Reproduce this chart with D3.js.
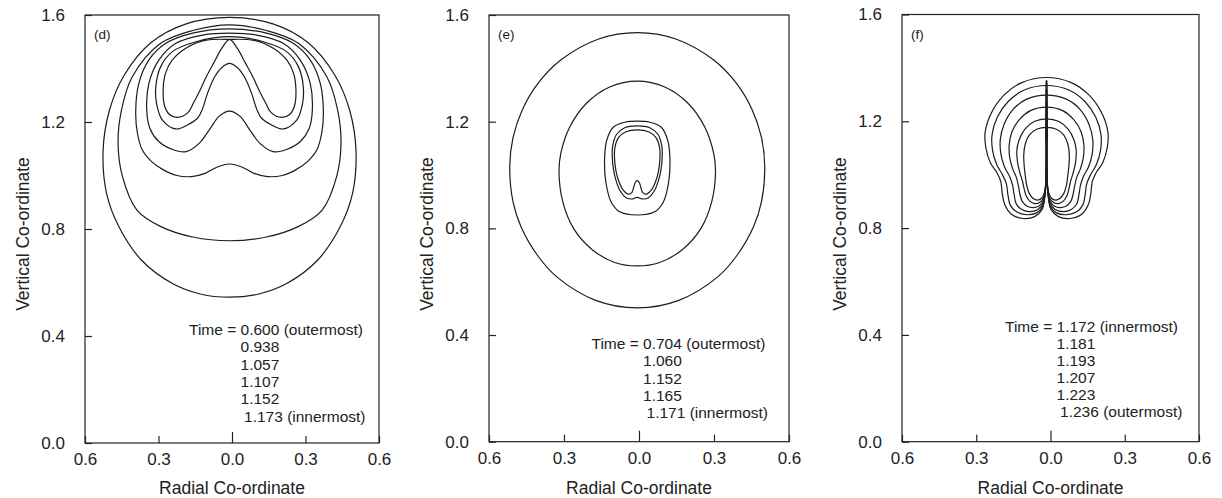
<!DOCTYPE html>
<html>
<head>
<meta charset="utf-8">
<script src="https://cdn.jsdelivr.net/npm/d3@7"></script>
<style>
  body { margin: 0; background: #fff; }
  text { font-family: "Liberation Sans", Arial, Helvetica, sans-serif; fill: #222; }
</style>
</head>
<body>
<svg id="chart" width="1222" height="498"></svg>
<script>
// axis ticks (radial axis is shown as distance from the centre line)
const xTicks = [-0.6, -0.3, 0.0, 0.3, 0.6];
const yTicks = [0.0, 0.4, 0.8, 1.2, 1.6];

// legend texts
const timesD = ["0.600 (outermost)", "0.938", "1.057", "1.107", "1.152", "1.173 (innermost)"];
const timesE = ["0.704 (outermost)", "1.060", "1.152", "1.165", "1.171 (innermost)"];
const timesF = ["1.172 (innermost)", "1.181", "1.193", "1.207", "1.223", "1.236 (outermost)"];

// centre line of the shapes
const centreD = -0.010;
const centreE = -0.007;
const centreF = -0.016;

// right half of each contour [r, z], from the top down to the axis; mirrored for the left half
// panel (d)
const d600 = [[0,1.591],[0.18,1.566],[0.32,1.497],[0.43,1.375],[0.49,1.245],[0.516,1.095],[0.502,0.933],[0.452,0.809],[0.36,0.684],[0.235,0.597],[0.12,0.557],[0,0.545]];
const d938 = [[0,1.563],[0.15,1.542],[0.281,1.494],[0.397,1.369],[0.441,1.245],[0.455,1.12],[0.437,0.996],[0.378,0.871],[0.28,0.809],[0.15,0.770],[0,0.756]];
const d1057 = [[0,1.548],[0.151,1.532],[0.26,1.494],[0.329,1.432],[0.37,1.345],[0.383,1.24],[0.376,1.158],[0.356,1.095],[0.318,1.052],[0.27,1.021],[0.215,1.0],[0.155,0.996],[0.1,1.008],[0.05,1.032],[0,1.043]];
const d1107 = [[0,1.532],[0.11,1.525],[0.219,1.494],[0.288,1.432],[0.329,1.345],[0.338,1.245],[0.325,1.176],[0.29,1.128],[0.235,1.098],[0.178,1.089],[0.124,1.12],[0.083,1.17],[0.042,1.222],[0,1.241]];
const d1152 = [[0,1.519],[0.137,1.50],[0.233,1.463],[0.281,1.407],[0.301,1.332],[0.298,1.27],[0.274,1.207],[0.219,1.174],[0.17,1.19],[0.13,1.215],[0.11,1.25],[0.09,1.307],[0.06,1.37],[0.03,1.405],[0,1.419]];
const d1173 = [[0,1.509],[0.1,1.505],[0.18,1.475],[0.235,1.43],[0.262,1.38],[0.271,1.32],[0.265,1.26],[0.245,1.228],[0.213,1.217],[0.17,1.235],[0.148,1.27],[0.125,1.31],[0.095,1.369],[0.065,1.42],[0.032,1.475],[0,1.509]];

// panel (e)
const e704 = [[0,1.534],[0.154,1.51],[0.306,1.431],[0.40,1.34],[0.46,1.244],[0.497,1.14],[0.51,1.031],[0.497,0.90],[0.465,0.806],[0.40,0.70],[0.323,0.619],[0.166,0.53],[0,0.502]];
const e1060 = [[0,1.352],[0.11,1.33],[0.202,1.27],[0.27,1.18],[0.306,1.08],[0.313,1.01],[0.298,0.90],[0.255,0.80],[0.18,0.72],[0.09,0.672],[0,0.659]];
const e1152 = [[0,1.202],[0.05,1.198],[0.095,1.18],[0.122,1.13],[0.131,1.05],[0.125,0.97],[0.105,0.90],[0.07,0.862],[0,0.850]];
const e1165 = [[0,1.184],[0.05,1.177],[0.083,1.152],[0.098,1.11],[0.10,1.07],[0.095,1.02],[0.085,0.98],[0.068,0.94],[0.045,0.915],[0.022,0.91],[0,0.916]];
const e1171 = [[0,1.169],[0.045,1.162],[0.075,1.14],[0.089,1.105],[0.091,1.065],[0.085,1.015],[0.073,0.975],[0.055,0.942],[0.035,0.928],[0.021,0.935],[0.014,0.955],[0.008,0.972],[0,0.979]];

// panel (f)
const f1172 = [[0,1.177],[0.04,1.17],[0.07,1.148],[0.086,1.115],[0.092,1.075],[0.09,1.03],[0.085,0.99],[0.079,0.955],[0.07,0.93],[0.055,0.912],[0.037,0.905],[0.02,0.912],[0.009,0.932],[0.004,0.96],[0.0015,1.02],[0.0008,1.10],[0.0008,1.16]];
const f1181 = [[0,1.209],[0.05,1.199],[0.088,1.17],[0.111,1.13],[0.12,1.09],[0.117,1.045],[0.107,1.005],[0.097,0.975],[0.09,0.945],[0.082,0.92],[0.068,0.901],[0.048,0.892],[0.028,0.896],[0.013,0.912],[0.006,0.94],[0.0015,1.0],[0.0008,1.10],[0.0008,1.19]];
const f1193 = [[0,1.253],[0.065,1.24],[0.11,1.206],[0.14,1.16],[0.151,1.11],[0.148,1.06],[0.136,1.02],[0.122,0.99],[0.113,0.955],[0.107,0.925],[0.097,0.898],[0.078,0.882],[0.052,0.877],[0.028,0.885],[0.012,0.905],[0.005,0.94],[0.0015,1.0],[0.0008,1.10],[0.0008,1.235]];
const f1207 = [[0,1.298],[0.08,1.283],[0.135,1.245],[0.171,1.19],[0.187,1.13],[0.184,1.075],[0.17,1.03],[0.15,0.995],[0.137,0.96],[0.131,0.925],[0.122,0.89],[0.10,0.87],[0.068,0.862],[0.035,0.87],[0.014,0.893],[0.006,0.93],[0.002,0.98],[0.0008,1.10],[0.0008,1.28]];
const f1223 = [[0,1.334],[0.09,1.317],[0.155,1.274],[0.199,1.215],[0.22,1.15],[0.218,1.09],[0.201,1.037],[0.178,1.0],[0.162,0.965],[0.156,0.925],[0.146,0.885],[0.12,0.86],[0.08,0.85],[0.04,0.857],[0.016,0.882],[0.007,0.925],[0.002,0.98],[0.0008,1.10],[0.0008,1.22],[0.0008,1.318]];
const f1236 = [[0,1.364],[0.10,1.345],[0.17,1.30],[0.221,1.235],[0.248,1.16],[0.245,1.10],[0.227,1.045],[0.202,1.01],[0.185,0.975],[0.179,0.93],[0.169,0.888],[0.142,0.852],[0.095,0.836],[0.048,0.843],[0.018,0.87],[0.007,0.915],[0.002,0.98],[0.0008,1.10],[0.0008,1.25],[0.0008,1.352]];

const curvesD = [d600, d938, d1057, d1107, d1152, d1173];
const curvesE = [e704, e1060, e1152, e1165, e1171];
const curvesF = [f1172, f1181, f1193, f1207, f1223, f1236];

const panels = [
  { tag: "(d)", curves: curvesD, centre: centreD, times: timesD,
    left: 85, right: 379, top: 15, bottom: 443, legendX: 189, legendY: 335, legendDy: 17.3 },
  { tag: "(e)", curves: curvesE, centre: centreE, times: timesE,
    left: 489, right: 789, top: 15, bottom: 441.7, legendX: 591.5, legendY: 349, legendDy: 17.3 },
  { tag: "(f)", curves: curvesF, centre: centreF, times: timesF,
    left: 902, right: 1199, top: 14.5, bottom: 441.7, legendX: 1005, legendY: 332, legendDy: 17 }
];

const svg = d3.select("#chart");
const ink = "#222";

// right half + mirrored left half, as one closed outline
function outline(half, c) {
  const right = half.map(([r, z]) => [c + r, z]);
  const left = half.filter((p, i) => i > 0 && p[0] > 0).reverse().map(([r, z]) => [c - r, z]);
  return right.concat(left);
}

panels.forEach(p => {
  const x = d3.scaleLinear().domain([xTicks[0], xTicks[xTicks.length - 1]]).range([p.left, p.right]);
  const y = d3.scaleLinear().domain([yTicks[0], yTicks[yTicks.length - 1]]).range([p.bottom, p.top]);
  const g = svg.append("g");

  const line = d3.line()
    .x(d => x(d[0]))
    .y(d => y(d[1]))
    .curve(d3.curveCatmullRomClosed.alpha(0.5));

  g.selectAll("path.contour")
    .data(p.curves.map(h => outline(h, p.centre)))
    .join("path")
    .attr("class", "contour")
    .attr("d", line)
    .attr("fill", "none")
    .attr("stroke", "#1c1c1c")
    .attr("stroke-width", 1.2)
    .attr("stroke-linejoin", "round");

  // frame
  g.append("rect")
    .attr("x", p.left).attr("y", p.top)
    .attr("width", p.right - p.left).attr("height", p.bottom - p.top)
    .attr("fill", "none").attr("stroke", ink).attr("stroke-width", 1.2);

  // bottom axis, ticks pointing inwards
  const xg = g.append("g")
    .attr("transform", `translate(0,${p.bottom})`)
    .call(d3.axisBottom(x).tickValues(xTicks)
      .tickFormat(d => Math.abs(d).toFixed(1))
      .tickSizeInner(-7).tickSizeOuter(0).tickPadding(10));
  xg.select(".domain").remove();
  xg.selectAll(".tick").filter(d => d === 0).select("line").attr("y2", -11);

  // left axis
  const yg = g.append("g")
    .attr("transform", `translate(${p.left},0)`)
    .call(d3.axisLeft(y).tickValues(yTicks)
      .tickFormat(d3.format(".1f"))
      .tickSizeInner(-7).tickSizeOuter(0).tickPadding(20));
  yg.select(".domain").remove();

  [xg, yg].forEach(a => {
    a.attr("font-size", null).attr("font-family", null).attr("color", ink);
    a.selectAll("line").attr("stroke-width", 1.2);
    a.selectAll("text").style("font-size", "17px");
  });

  // axis titles
  g.append("text")
    .attr("x", x(0)).attr("y", 494)
    .attr("text-anchor", "middle")
    .style("font-size", "17.5px")
    .text("Radial Co-ordinate");

  g.append("text")
    .attr("transform", `translate(${p.left - 56},234) rotate(-90)`)
    .attr("text-anchor", "middle")
    .style("font-size", "17.5px")
    .text("Vertical Co-ordinate");

  // panel tag
  g.append("text")
    .attr("x", p.left + 9).attr("y", p.top + 24)
    .style("font-size", "13.5px")
    .text(p.tag);

  // legend: first line carries "Time = ", the rest line up under the first value
  const first = g.append("text")
    .attr("x", p.legendX).attr("y", p.legendY)
    .style("font-size", "15.5px")
    .text("Time = " + p.times[0]);
  const valueX = p.legendX + first.node().getSubStringLength(0, 7);
  p.times.slice(1).forEach((t, i) => {
    const last = i === p.times.length - 2;
    g.append("text")
      .attr("x", valueX + (last ? 3.5 : 0))
      .attr("y", p.legendY + (i + 1) * p.legendDy)
      .style("font-size", "15.5px")
      .text(t);
  });
});
</script>
</body>
</html>
